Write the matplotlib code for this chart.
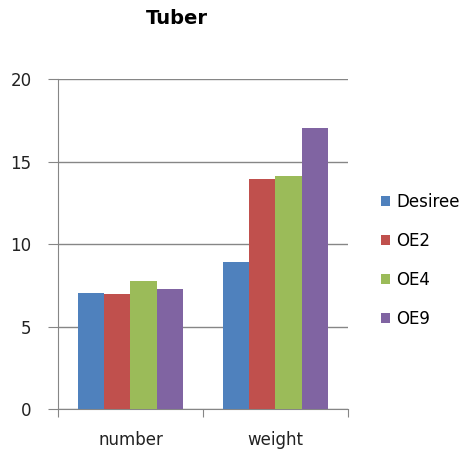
import matplotlib
matplotlib.use("Agg")
import matplotlib.pyplot as plt
import numpy as np

# tuber data per line
categories = ["number", "weight"]
series_names = ["Desiree", "OE2", "OE4", "OE9"]
desiree = [7.05, 8.9]
oe2 = [6.95, 13.95]
oe4 = [7.75, 14.15]
oe9 = [7.3, 17.05]
values = [desiree, oe2, oe4, oe9]
colors = ["#4F81BD", "#C0504D", "#9BBB59", "#8064A2"]

grid_col = "#868686"
fsize = 12

fig = plt.figure(figsize=(4.73, 4.51), dpi=100)
ax = fig.add_axes([0.1226, 0.0931, 0.613, 0.7317])

x = np.arange(len(categories)) + 0.5
w = 0.181
for i, (name, vals, c) in enumerate(zip(series_names, values, colors)):
    ax.bar(x + (i - 1.5) * w, vals, width=w, color=c, label=name, zorder=3)

ax.set_xlim(0, len(categories))
ax.set_ylim(0, 20)
ax.set_yticks([0, 5, 10, 15, 20])
ax.yaxis.grid(True, color=grid_col, linewidth=1, zorder=0)

# category boundary ticks like a spreadsheet chart
ax.set_xticks([0, 1, 2])
ax.set_xticklabels([])
ax.set_xticks(x, minor=True)
ax.set_xticklabels(categories, minor=True, fontsize=fsize, color="#222222")
ax.tick_params(axis="x", which="minor", length=0, pad=16)
ax.tick_params(axis="x", which="major", length=6, color=grid_col)
ax.tick_params(axis="y", length=7, color=grid_col, labelsize=fsize, pad=12,
               labelcolor="#222222")

for s in ["top", "right"]:
    ax.spines[s].set_visible(False)
for s in ["left", "bottom"]:
    ax.spines[s].set_color(grid_col)

fig.text(0.374, 0.96, "Tuber", fontsize=14, fontweight="bold",
         ha="center", va="center")

fig.legend(loc="upper left", bbox_to_anchor=(0.805, 0.572), frameon=False,
           fontsize=fsize, handlelength=0.55, handleheight=0.55,
           handletextpad=0.4, labelspacing=1.25, borderpad=0, borderaxespad=0)

fig.savefig("out.png", dpi=100)
